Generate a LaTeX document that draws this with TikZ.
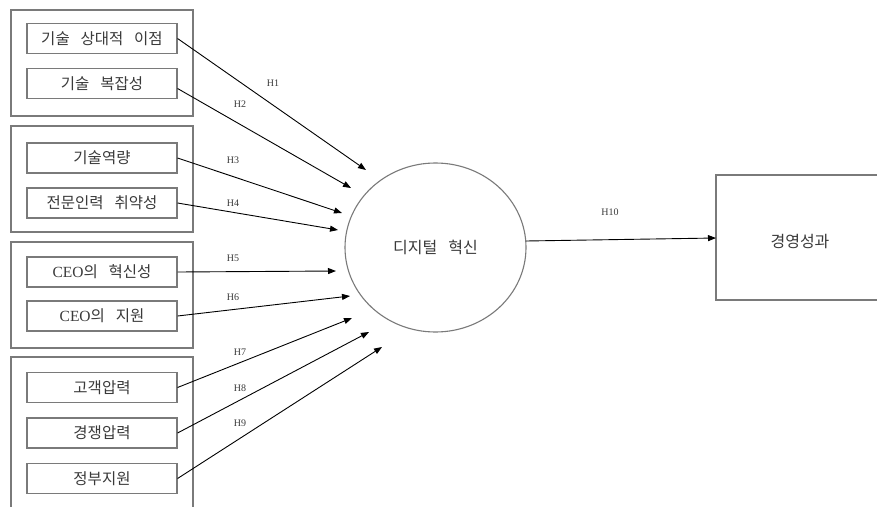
\documentclass[tikz,border=0pt]{standalone}
\usepackage{fontspec}
\setmainfont{Liberation Serif}
\newfontfamily\kr{Noto Sans CJK KR}
\usetikzlibrary{arrows.meta,shapes.geometric}
\definecolor{boxgray}{HTML}{7A7A7A}
\definecolor{txtgray}{HTML}{3A3A3A}
\tikzset{
  grp/.style={draw=boxgray,line width=1.1pt},
  item/.style={draw=boxgray,line width=1.1pt,minimum width=150pt,minimum height=30pt,inner sep=0pt,
    font=\kr\fontsize{15.5}{17}\selectfont,text=txtgray},
  hyp/.style={font=\fontsize{10}{11}\selectfont,text=txtgray},
  arr/.style={draw=black,line width=0.9pt,-{Triangle[length=8pt,width=6pt]}}
}
\begin{document}
\begin{tikzpicture}[x=1pt,y=-1pt]
\useasboundingbox (0,0) rectangle (877,506);
\clip (0,0) rectangle (877,506);
\fill[white] (0,0) rectangle (877,506);
% group frames
\draw[grp] (11,10) rectangle (193,116);
\draw[grp] (11,126) rectangle (193,232);
\draw[grp] (11,242) rectangle (193,348);
\draw[grp] (11,357) rectangle (193,520);
% items
\node[item] (b1) at (102,38.5) {기술\hspace{0.7em}상대적\hspace{0.7em}이점};
\node[item] (b2) at (102,83.5) {기술\hspace{0.7em}복잡성};
\node[item] (b3) at (102,158) {기술역량};
\node[item] (b4) at (102,203) {전문인력\hspace{0.7em}취약성};
\node[item] (b5) at (102,272) {\fontspec{Liberation Serif}CEO\kr 의\hspace{0.7em}혁신성};
\node[item] (b6) at (102,316) {\fontspec{Liberation Serif}CEO\kr 의\hspace{0.7em}지원};
\node[item] (b7) at (102,387.5) {고객압력};
\node[item] (b8) at (102,433) {경쟁압력};
\node[item] (b9) at (102,478.5) {정부지원};
% central ellipse
\node[draw=boxgray,line width=1.1pt,ellipse,minimum width=181pt,minimum height=169pt,inner sep=0pt,
  font=\kr\fontsize{16}{18}\selectfont,text=txtgray] (di) at (435.5,247.5) {디지털\hspace{0.7em}혁신};
% outcome box
\draw[grp] (716,175) rectangle (890,300);
\node[font=\kr\fontsize{16}{18}\selectfont,text=txtgray] (kp) at (800,242) {경영성과};
\coordinate (kpw) at (716,238);
\coordinate (dio) at (526,241);
% arrow tips
\coordinate (t1) at (366,170);
\coordinate (t2) at (351,188);
\coordinate (t3) at (342,213);
\coordinate (t4) at (338,230);
\coordinate (t5) at (336,271);
\coordinate (t6) at (350,296);
\coordinate (t7) at (352,318);
\coordinate (t8) at (369,332);
\coordinate (t9) at (382,347);
\draw[arr] (b1.east) -- (t1);
\draw[arr] ([yshift=-5pt]b2.east) -- (t2);
\draw[arr] (b3.east) -- (t3);
\draw[arr] (b4.east) -- (t4);
\draw[arr] (b5.east) -- (t5);
\draw[arr] (b6.east) -- (t6);
\draw[arr] (b7.east) -- (t7);
\draw[arr] (b8.east) -- (t8);
\draw[arr] (b9.east) -- (t9);
\draw[arr] (dio) -- (kpw);
% labels
\node[hyp] (h1) at (273,83) {H1};
\node[hyp] (h2) at (240,104) {H2};
\node[hyp] (h3) at (233,160) {H3};
\node[hyp] (h4) at (233,203) {H4};
\node[hyp] (h5) at (233,258) {H5};
\node[hyp] (h6) at (233,297) {H6};
\node[hyp] (h7) at (240,352) {H7};
\node[hyp] (h8) at (240,388) {H8};
\node[hyp] (h9) at (240,423) {H9};
\node[hyp] (h10) at (610,212) {H10};
\end{tikzpicture}
\end{document}
